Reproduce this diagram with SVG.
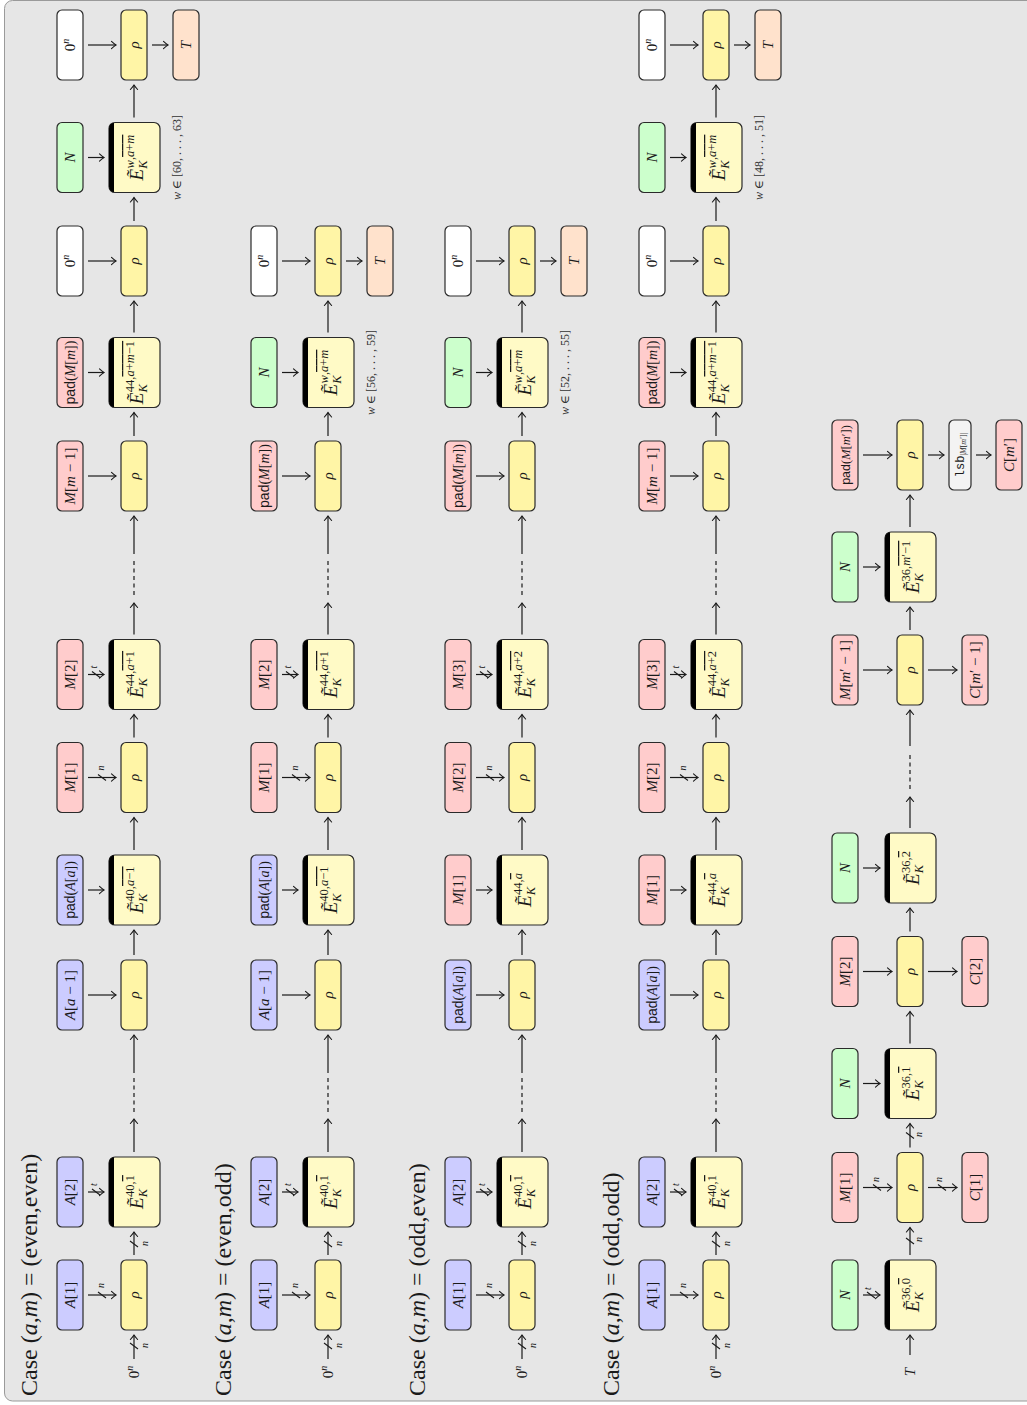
<svg xmlns="http://www.w3.org/2000/svg" width="1027" height="1405" viewBox="0 0 1027 1405">
<defs>
<style>
.nd{stroke:#2a2a2a;stroke-width:1.2}
.rho{fill:#fff5a6}.eb{fill:#fffac6}.bl{fill:#ccccff}.pk{fill:#ffcccc}.gr{fill:#ccffcc}.wh{fill:#ffffff}.pe{fill:#ffe2cc}.lg{fill:#f3f3f3}
.bar{fill:#000}
.t{font-family:"Liberation Serif","DejaVu Serif",serif;font-size:15px;text-anchor:middle;fill:#1a1a1a}
.i{font-style:italic}
.sf{font-family:"Liberation Sans","DejaVu Sans",sans-serif}
.tt{font-family:"Liberation Mono","DejaVu Sans Mono",monospace}
.sc{font-size:12.5px}
.ee{font-size:19px;font-style:italic}
.ov{text-decoration:overline}
.pd{font-size:14px}
.ar{fill:none;stroke:#1a1a1a;stroke-width:1.2;marker-end:url(#ah)}
.ds{fill:none;stroke:#1a1a1a;stroke-width:1.2;stroke-dasharray:4 3.5}
.tk{stroke:#1a1a1a;stroke-width:1.1}
.lb{font-family:"Liberation Serif","DejaVu Serif",serif;font-size:10px;font-style:italic;fill:#1a1a1a}
.case{font-family:"Liberation Serif","DejaVu Serif",serif;font-size:24px;fill:#1a1a1a}
.ann{font-family:"Liberation Serif","DejaVu Serif",serif;font-size:12px;text-anchor:middle;fill:#333}
</style>
<marker id="ah" viewBox="-6 -5 7 10" markerWidth="7" markerHeight="10" refX="0" refY="0" orient="auto" markerUnits="userSpaceOnUse" overflow="visible">
<path d="M-4.5,-3.6 Q-1.6,-0.9 0,0 Q-1.6,0.9 -4.5,3.6" fill="none" stroke="#1a1a1a" stroke-width="1.1" stroke-linecap="round"/>
</marker>
<clipPath id="ec"><rect width="70" height="51" rx="6"/></clipPath>
</defs>
<rect x="4.5" y="0.5" width="1040" height="1400.5" rx="8" fill="#e6e6e6" stroke="#9a9a9a" stroke-width="1"/>
<g transform="translate(0,1405) rotate(-90)">

<g id="labels">
<text class="case" x="9" y="37">Case (<tspan class="i">a</tspan>,<tspan class="i">m</tspan>) = (even,even)</text>
<text class="case" x="9" y="231">Case (<tspan class="i">a</tspan>,<tspan class="i">m</tspan>) = (even,odd)</text>
<text class="case" x="9" y="425">Case (<tspan class="i">a</tspan>,<tspan class="i">m</tspan>) = (odd,even)</text>
<text class="case" x="9" y="619">Case (<tspan class="i">a</tspan>,<tspan class="i">m</tspan>) = (odd,odd)</text>
<text class="ann" x="1247.5" y="181"><tspan class="i">w</tspan> ∈ [60, . . . , 63]</text>
<text class="ann" x="1032.5" y="375"><tspan class="i">w</tspan> ∈ [56, . . . , 59]</text>
<text class="ann" x="1032.5" y="569"><tspan class="i">w</tspan> ∈ [52, . . . , 55]</text>
<text class="ann" x="1247.5" y="763"><tspan class="i">w</tspan> ∈ [48, . . . , 51]</text>
<text class="t" x="33" y="139">0<tspan class="i" style="font-size:10px" dy="-6">n</tspan></text>
<text class="t" x="33" y="333">0<tspan class="i" style="font-size:10px" dy="-6">n</tspan></text>
<text class="t" x="33" y="527">0<tspan class="i" style="font-size:10px" dy="-6">n</tspan></text>
<text class="t" x="33" y="721">0<tspan class="i" style="font-size:10px" dy="-6">n</tspan></text>
<text class="t i" x="33" y="915">T</text>
</g>

<!-- ROW 1 -->
<g id="r1-A1" transform="translate(75,57)"><rect class="nd bl" width="70" height="26" rx="5"/><text class="t" x="35" y="18"><tspan class="i">A</tspan>[1]</text></g>
<g id="r1-rho1" transform="translate(75,121)"><rect class="nd rho" width="70" height="26" rx="5"/><text class="t i" x="35" y="18">ρ</text></g>
<g id="r1-A2" transform="translate(178,57)"><rect class="nd bl" width="70" height="26" rx="5"/><text class="t" x="35" y="18"><tspan class="i">A</tspan>[2]</text></g>
<g id="r1-E1" transform="translate(178,109)"><rect class="nd eb" width="70" height="51" rx="6"/><rect class="bar" width="70" height="5" clip-path="url(#ec)"/><text class="t" x="35" y="34"><tspan class="ee">Ẽ</tspan><tspan class="i sc" dy="4">K</tspan><tspan class="sc" dx="-8" dy="-13">40,</tspan><tspan class="sc ov">1</tspan></text></g>
<g id="r1-Aa1" transform="translate(375,57)"><rect class="nd bl" width="70" height="26" rx="5"/><text class="t" x="35" y="18"><tspan class="i">A</tspan>[<tspan class="i">a</tspan> − 1]</text></g>
<g id="r1-rho2" transform="translate(375,121)"><rect class="nd rho" width="70" height="26" rx="5"/><text class="t i" x="35" y="18">ρ</text></g>
<g id="r1-padA" transform="translate(480,57)"><rect class="nd bl" width="70" height="26" rx="5"/><text class="t pd" x="35" y="18"><tspan class="sf">pad</tspan>(<tspan class="i">A</tspan>[<tspan class="i">a</tspan>])</text></g>
<g id="r1-E2" transform="translate(480,109)"><rect class="nd eb" width="70" height="51" rx="6"/><rect class="bar" width="70" height="5" clip-path="url(#ec)"/><text class="t" x="35" y="34"><tspan class="ee">Ẽ</tspan><tspan class="i sc" dy="4">K</tspan><tspan class="sc" dx="-8" dy="-13">40,</tspan><tspan class="sc ov"><tspan class="i">a</tspan>−1</tspan></text></g>
<g id="r1-M1" transform="translate(592.5,57)"><rect class="nd pk" width="70" height="26" rx="5"/><text class="t" x="35" y="18"><tspan class="i">M</tspan>[1]</text></g>
<g id="r1-rho3" transform="translate(592.5,121)"><rect class="nd rho" width="70" height="26" rx="5"/><text class="t i" x="35" y="18">ρ</text></g>
<g id="r1-M2" transform="translate(695.5,57)"><rect class="nd pk" width="70" height="26" rx="5"/><text class="t" x="35" y="18"><tspan class="i">M</tspan>[2]</text></g>
<g id="r1-E3" transform="translate(695.5,109)"><rect class="nd eb" width="70" height="51" rx="6"/><rect class="bar" width="70" height="5" clip-path="url(#ec)"/><text class="t" x="35" y="34"><tspan class="ee">Ẽ</tspan><tspan class="i sc" dy="4">K</tspan><tspan class="sc" dx="-8" dy="-13">44,</tspan><tspan class="sc ov"><tspan class="i">a</tspan>+1</tspan></text></g>
<g id="r1-Mm1" transform="translate(894,57)"><rect class="nd pk" width="70" height="26" rx="5"/><text class="t" x="35" y="18"><tspan class="i">M</tspan>[<tspan class="i">m</tspan> − 1]</text></g>
<g id="r1-rho4" transform="translate(894,121)"><rect class="nd rho" width="70" height="26" rx="5"/><text class="t i" x="35" y="18">ρ</text></g>
<g id="r1-padM" transform="translate(997.5,57)"><rect class="nd pk" width="70" height="26" rx="5"/><text class="t pd" x="35" y="18"><tspan class="sf">pad</tspan>(<tspan class="i">M</tspan>[<tspan class="i">m</tspan>])</text></g>
<g id="r1-E4" transform="translate(997.5,109)"><rect class="nd eb" width="70" height="51" rx="6"/><rect class="bar" width="70" height="5" clip-path="url(#ec)"/><text class="t" x="35" y="34"><tspan class="ee">Ẽ</tspan><tspan class="i sc" dy="4">K</tspan><tspan class="sc" dx="-8" dy="-13">44,</tspan><tspan class="sc ov"><tspan class="i">a</tspan>+<tspan class="i">m</tspan>−1</tspan></text></g>
<g id="r1-Z1" transform="translate(1109,57)"><rect class="nd wh" width="70" height="26" rx="5"/><text class="t" x="35" y="18">0<tspan class="i" style="font-size:10px" dy="-6">n</tspan></text></g>
<g id="r1-rho5" transform="translate(1109,121)"><rect class="nd rho" width="70" height="26" rx="5"/><text class="t i" x="35" y="18">ρ</text></g>
<g id="r1-N" transform="translate(1212.5,57)"><rect class="nd gr" width="70" height="26" rx="5"/><text class="t i" x="35" y="18">N</text></g>
<g id="r1-E5" transform="translate(1212.5,109)"><rect class="nd eb" width="70" height="51" rx="6"/><rect class="bar" width="70" height="5" clip-path="url(#ec)"/><text class="t" x="35" y="34"><tspan class="ee">Ẽ</tspan><tspan class="i sc" dy="4">K</tspan><tspan class="sc" dx="-8" dy="-13"><tspan class="i">w</tspan>,</tspan><tspan class="sc ov"><tspan class="i">a</tspan>+<tspan class="i">m</tspan></tspan></text></g>
<g id="r1-Z2" transform="translate(1325,57)"><rect class="nd wh" width="70" height="26" rx="5"/><text class="t" x="35" y="18">0<tspan class="i" style="font-size:10px" dy="-6">n</tspan></text></g>
<g id="r1-rho6" transform="translate(1325,121)"><rect class="nd rho" width="70" height="26" rx="5"/><text class="t i" x="35" y="18">ρ</text></g>
<g id="r1-T" transform="translate(1325,173)"><rect class="nd pe" width="70" height="26" rx="5"/><text class="t i" x="35" y="18">T</text></g>

<!-- ROW 2 -->
<g id="r2-A1" transform="translate(75,251)"><rect class="nd bl" width="70" height="26" rx="5"/><text class="t" x="35" y="18"><tspan class="i">A</tspan>[1]</text></g>
<g id="r2-rho1" transform="translate(75,315)"><rect class="nd rho" width="70" height="26" rx="5"/><text class="t i" x="35" y="18">ρ</text></g>
<g id="r2-A2" transform="translate(178,251)"><rect class="nd bl" width="70" height="26" rx="5"/><text class="t" x="35" y="18"><tspan class="i">A</tspan>[2]</text></g>
<g id="r2-E1" transform="translate(178,303)"><rect class="nd eb" width="70" height="51" rx="6"/><rect class="bar" width="70" height="5" clip-path="url(#ec)"/><text class="t" x="35" y="34"><tspan class="ee">Ẽ</tspan><tspan class="i sc" dy="4">K</tspan><tspan class="sc" dx="-8" dy="-13">40,</tspan><tspan class="sc ov">1</tspan></text></g>
<g id="r2-Aa1" transform="translate(375,251)"><rect class="nd bl" width="70" height="26" rx="5"/><text class="t" x="35" y="18"><tspan class="i">A</tspan>[<tspan class="i">a</tspan> − 1]</text></g>
<g id="r2-rho2" transform="translate(375,315)"><rect class="nd rho" width="70" height="26" rx="5"/><text class="t i" x="35" y="18">ρ</text></g>
<g id="r2-padA" transform="translate(480,251)"><rect class="nd bl" width="70" height="26" rx="5"/><text class="t pd" x="35" y="18"><tspan class="sf">pad</tspan>(<tspan class="i">A</tspan>[<tspan class="i">a</tspan>])</text></g>
<g id="r2-E2" transform="translate(480,303)"><rect class="nd eb" width="70" height="51" rx="6"/><rect class="bar" width="70" height="5" clip-path="url(#ec)"/><text class="t" x="35" y="34"><tspan class="ee">Ẽ</tspan><tspan class="i sc" dy="4">K</tspan><tspan class="sc" dx="-8" dy="-13">40,</tspan><tspan class="sc ov"><tspan class="i">a</tspan>−1</tspan></text></g>
<g id="r2-M1" transform="translate(592.5,251)"><rect class="nd pk" width="70" height="26" rx="5"/><text class="t" x="35" y="18"><tspan class="i">M</tspan>[1]</text></g>
<g id="r2-rho3" transform="translate(592.5,315)"><rect class="nd rho" width="70" height="26" rx="5"/><text class="t i" x="35" y="18">ρ</text></g>
<g id="r2-M2" transform="translate(695.5,251)"><rect class="nd pk" width="70" height="26" rx="5"/><text class="t" x="35" y="18"><tspan class="i">M</tspan>[2]</text></g>
<g id="r2-E3" transform="translate(695.5,303)"><rect class="nd eb" width="70" height="51" rx="6"/><rect class="bar" width="70" height="5" clip-path="url(#ec)"/><text class="t" x="35" y="34"><tspan class="ee">Ẽ</tspan><tspan class="i sc" dy="4">K</tspan><tspan class="sc" dx="-8" dy="-13">44,</tspan><tspan class="sc ov"><tspan class="i">a</tspan>+1</tspan></text></g>
<g id="r2-padM" transform="translate(894,251)"><rect class="nd pk" width="70" height="26" rx="5"/><text class="t pd" x="35" y="18"><tspan class="sf">pad</tspan>(<tspan class="i">M</tspan>[<tspan class="i">m</tspan>])</text></g>
<g id="r2-rho4" transform="translate(894,315)"><rect class="nd rho" width="70" height="26" rx="5"/><text class="t i" x="35" y="18">ρ</text></g>
<g id="r2-N" transform="translate(997.5,251)"><rect class="nd gr" width="70" height="26" rx="5"/><text class="t i" x="35" y="18">N</text></g>
<g id="r2-E4" transform="translate(997.5,303)"><rect class="nd eb" width="70" height="51" rx="6"/><rect class="bar" width="70" height="5" clip-path="url(#ec)"/><text class="t" x="35" y="34"><tspan class="ee">Ẽ</tspan><tspan class="i sc" dy="4">K</tspan><tspan class="sc" dx="-8" dy="-13"><tspan class="i">w</tspan>,</tspan><tspan class="sc ov"><tspan class="i">a</tspan>+<tspan class="i">m</tspan></tspan></text></g>
<g id="r2-Z" transform="translate(1109,251)"><rect class="nd wh" width="70" height="26" rx="5"/><text class="t" x="35" y="18">0<tspan class="i" style="font-size:10px" dy="-6">n</tspan></text></g>
<g id="r2-rho5" transform="translate(1109,315)"><rect class="nd rho" width="70" height="26" rx="5"/><text class="t i" x="35" y="18">ρ</text></g>
<g id="r2-T" transform="translate(1109,367)"><rect class="nd pe" width="70" height="26" rx="5"/><text class="t i" x="35" y="18">T</text></g>

<!-- ROW 3 -->
<g id="r3-A1" transform="translate(75,445)"><rect class="nd bl" width="70" height="26" rx="5"/><text class="t" x="35" y="18"><tspan class="i">A</tspan>[1]</text></g>
<g id="r3-rho1" transform="translate(75,509)"><rect class="nd rho" width="70" height="26" rx="5"/><text class="t i" x="35" y="18">ρ</text></g>
<g id="r3-A2" transform="translate(178,445)"><rect class="nd bl" width="70" height="26" rx="5"/><text class="t" x="35" y="18"><tspan class="i">A</tspan>[2]</text></g>
<g id="r3-E1" transform="translate(178,497)"><rect class="nd eb" width="70" height="51" rx="6"/><rect class="bar" width="70" height="5" clip-path="url(#ec)"/><text class="t" x="35" y="34"><tspan class="ee">Ẽ</tspan><tspan class="i sc" dy="4">K</tspan><tspan class="sc" dx="-8" dy="-13">40,</tspan><tspan class="sc ov">1</tspan></text></g>
<g id="r3-padA" transform="translate(375,445)"><rect class="nd bl" width="70" height="26" rx="5"/><text class="t pd" x="35" y="18"><tspan class="sf">pad</tspan>(<tspan class="i">A</tspan>[<tspan class="i">a</tspan>])</text></g>
<g id="r3-rho2" transform="translate(375,509)"><rect class="nd rho" width="70" height="26" rx="5"/><text class="t i" x="35" y="18">ρ</text></g>
<g id="r3-M1" transform="translate(480,445)"><rect class="nd pk" width="70" height="26" rx="5"/><text class="t" x="35" y="18"><tspan class="i">M</tspan>[1]</text></g>
<g id="r3-E2" transform="translate(480,497)"><rect class="nd eb" width="70" height="51" rx="6"/><rect class="bar" width="70" height="5" clip-path="url(#ec)"/><text class="t" x="35" y="34"><tspan class="ee">Ẽ</tspan><tspan class="i sc" dy="4">K</tspan><tspan class="sc" dx="-8" dy="-13">44,</tspan><tspan class="sc ov i">a</tspan></text></g>
<g id="r3-M2" transform="translate(592.5,445)"><rect class="nd pk" width="70" height="26" rx="5"/><text class="t" x="35" y="18"><tspan class="i">M</tspan>[2]</text></g>
<g id="r3-rho3" transform="translate(592.5,509)"><rect class="nd rho" width="70" height="26" rx="5"/><text class="t i" x="35" y="18">ρ</text></g>
<g id="r3-M3" transform="translate(695.5,445)"><rect class="nd pk" width="70" height="26" rx="5"/><text class="t" x="35" y="18"><tspan class="i">M</tspan>[3]</text></g>
<g id="r3-E3" transform="translate(695.5,497)"><rect class="nd eb" width="70" height="51" rx="6"/><rect class="bar" width="70" height="5" clip-path="url(#ec)"/><text class="t" x="35" y="34"><tspan class="ee">Ẽ</tspan><tspan class="i sc" dy="4">K</tspan><tspan class="sc" dx="-8" dy="-13">44,</tspan><tspan class="sc ov"><tspan class="i">a</tspan>+2</tspan></text></g>
<g id="r3-padM" transform="translate(894,445)"><rect class="nd pk" width="70" height="26" rx="5"/><text class="t pd" x="35" y="18"><tspan class="sf">pad</tspan>(<tspan class="i">M</tspan>[<tspan class="i">m</tspan>])</text></g>
<g id="r3-rho4" transform="translate(894,509)"><rect class="nd rho" width="70" height="26" rx="5"/><text class="t i" x="35" y="18">ρ</text></g>
<g id="r3-N" transform="translate(997.5,445)"><rect class="nd gr" width="70" height="26" rx="5"/><text class="t i" x="35" y="18">N</text></g>
<g id="r3-E4" transform="translate(997.5,497)"><rect class="nd eb" width="70" height="51" rx="6"/><rect class="bar" width="70" height="5" clip-path="url(#ec)"/><text class="t" x="35" y="34"><tspan class="ee">Ẽ</tspan><tspan class="i sc" dy="4">K</tspan><tspan class="sc" dx="-8" dy="-13"><tspan class="i">w</tspan>,</tspan><tspan class="sc ov"><tspan class="i">a</tspan>+<tspan class="i">m</tspan></tspan></text></g>
<g id="r3-Z" transform="translate(1109,445)"><rect class="nd wh" width="70" height="26" rx="5"/><text class="t" x="35" y="18">0<tspan class="i" style="font-size:10px" dy="-6">n</tspan></text></g>
<g id="r3-rho5" transform="translate(1109,509)"><rect class="nd rho" width="70" height="26" rx="5"/><text class="t i" x="35" y="18">ρ</text></g>
<g id="r3-T" transform="translate(1109,561)"><rect class="nd pe" width="70" height="26" rx="5"/><text class="t i" x="35" y="18">T</text></g>

<!-- ROW 4 -->
<g id="r4-A1" transform="translate(75,639)"><rect class="nd bl" width="70" height="26" rx="5"/><text class="t" x="35" y="18"><tspan class="i">A</tspan>[1]</text></g>
<g id="r4-rho1" transform="translate(75,703)"><rect class="nd rho" width="70" height="26" rx="5"/><text class="t i" x="35" y="18">ρ</text></g>
<g id="r4-A2" transform="translate(178,639)"><rect class="nd bl" width="70" height="26" rx="5"/><text class="t" x="35" y="18"><tspan class="i">A</tspan>[2]</text></g>
<g id="r4-E1" transform="translate(178,691)"><rect class="nd eb" width="70" height="51" rx="6"/><rect class="bar" width="70" height="5" clip-path="url(#ec)"/><text class="t" x="35" y="34"><tspan class="ee">Ẽ</tspan><tspan class="i sc" dy="4">K</tspan><tspan class="sc" dx="-8" dy="-13">40,</tspan><tspan class="sc ov">1</tspan></text></g>
<g id="r4-padA" transform="translate(375,639)"><rect class="nd bl" width="70" height="26" rx="5"/><text class="t pd" x="35" y="18"><tspan class="sf">pad</tspan>(<tspan class="i">A</tspan>[<tspan class="i">a</tspan>])</text></g>
<g id="r4-rho2" transform="translate(375,703)"><rect class="nd rho" width="70" height="26" rx="5"/><text class="t i" x="35" y="18">ρ</text></g>
<g id="r4-M1" transform="translate(480,639)"><rect class="nd pk" width="70" height="26" rx="5"/><text class="t" x="35" y="18"><tspan class="i">M</tspan>[1]</text></g>
<g id="r4-E2" transform="translate(480,691)"><rect class="nd eb" width="70" height="51" rx="6"/><rect class="bar" width="70" height="5" clip-path="url(#ec)"/><text class="t" x="35" y="34"><tspan class="ee">Ẽ</tspan><tspan class="i sc" dy="4">K</tspan><tspan class="sc" dx="-8" dy="-13">44,</tspan><tspan class="sc ov i">a</tspan></text></g>
<g id="r4-M2" transform="translate(592.5,639)"><rect class="nd pk" width="70" height="26" rx="5"/><text class="t" x="35" y="18"><tspan class="i">M</tspan>[2]</text></g>
<g id="r4-rho3" transform="translate(592.5,703)"><rect class="nd rho" width="70" height="26" rx="5"/><text class="t i" x="35" y="18">ρ</text></g>
<g id="r4-M3" transform="translate(695.5,639)"><rect class="nd pk" width="70" height="26" rx="5"/><text class="t" x="35" y="18"><tspan class="i">M</tspan>[3]</text></g>
<g id="r4-E3" transform="translate(695.5,691)"><rect class="nd eb" width="70" height="51" rx="6"/><rect class="bar" width="70" height="5" clip-path="url(#ec)"/><text class="t" x="35" y="34"><tspan class="ee">Ẽ</tspan><tspan class="i sc" dy="4">K</tspan><tspan class="sc" dx="-8" dy="-13">44,</tspan><tspan class="sc ov"><tspan class="i">a</tspan>+2</tspan></text></g>
<g id="r4-Mm1" transform="translate(894,639)"><rect class="nd pk" width="70" height="26" rx="5"/><text class="t" x="35" y="18"><tspan class="i">M</tspan>[<tspan class="i">m</tspan> − 1]</text></g>
<g id="r4-rho4" transform="translate(894,703)"><rect class="nd rho" width="70" height="26" rx="5"/><text class="t i" x="35" y="18">ρ</text></g>
<g id="r4-padM" transform="translate(997.5,639)"><rect class="nd pk" width="70" height="26" rx="5"/><text class="t pd" x="35" y="18"><tspan class="sf">pad</tspan>(<tspan class="i">M</tspan>[<tspan class="i">m</tspan>])</text></g>
<g id="r4-E4" transform="translate(997.5,691)"><rect class="nd eb" width="70" height="51" rx="6"/><rect class="bar" width="70" height="5" clip-path="url(#ec)"/><text class="t" x="35" y="34"><tspan class="ee">Ẽ</tspan><tspan class="i sc" dy="4">K</tspan><tspan class="sc" dx="-8" dy="-13">44,</tspan><tspan class="sc ov"><tspan class="i">a</tspan>+<tspan class="i">m</tspan>−1</tspan></text></g>
<g id="r4-Z1" transform="translate(1109,639)"><rect class="nd wh" width="70" height="26" rx="5"/><text class="t" x="35" y="18">0<tspan class="i" style="font-size:10px" dy="-6">n</tspan></text></g>
<g id="r4-rho5" transform="translate(1109,703)"><rect class="nd rho" width="70" height="26" rx="5"/><text class="t i" x="35" y="18">ρ</text></g>
<g id="r4-N" transform="translate(1212.5,639)"><rect class="nd gr" width="70" height="26" rx="5"/><text class="t i" x="35" y="18">N</text></g>
<g id="r4-E5" transform="translate(1212.5,691)"><rect class="nd eb" width="70" height="51" rx="6"/><rect class="bar" width="70" height="5" clip-path="url(#ec)"/><text class="t" x="35" y="34"><tspan class="ee">Ẽ</tspan><tspan class="i sc" dy="4">K</tspan><tspan class="sc" dx="-8" dy="-13"><tspan class="i">w</tspan>,</tspan><tspan class="sc ov"><tspan class="i">a</tspan>+<tspan class="i">m</tspan></tspan></text></g>
<g id="r4-Z2" transform="translate(1325,639)"><rect class="nd wh" width="70" height="26" rx="5"/><text class="t" x="35" y="18">0<tspan class="i" style="font-size:10px" dy="-6">n</tspan></text></g>
<g id="r4-rho6" transform="translate(1325,703)"><rect class="nd rho" width="70" height="26" rx="5"/><text class="t i" x="35" y="18">ρ</text></g>
<g id="r4-T" transform="translate(1325,755)"><rect class="nd pe" width="70" height="26" rx="5"/><text class="t i" x="35" y="18">T</text></g>

<!-- ROW 5 -->
<g id="r5-N0" transform="translate(75,832)"><rect class="nd gr" width="70" height="26" rx="5"/><text class="t i" x="35" y="18">N</text></g>
<g id="r5-E0" transform="translate(75,885)"><rect class="nd eb" width="70" height="51" rx="6"/><rect class="bar" width="70" height="5" clip-path="url(#ec)"/><text class="t" x="35" y="34"><tspan class="ee">Ẽ</tspan><tspan class="i sc" dy="4">K</tspan><tspan class="sc" dx="-8" dy="-13">36,</tspan><tspan class="sc ov">0</tspan></text></g>
<g id="r5-M1" transform="translate(182.5,832)"><rect class="nd pk" width="70" height="26" rx="5"/><text class="t" x="35" y="18"><tspan class="i">M</tspan>[1]</text></g>
<g id="r5-rho1" transform="translate(182.5,897)"><rect class="nd rho" width="70" height="26" rx="5"/><text class="t i" x="35" y="18">ρ</text></g>
<g id="r5-C1" transform="translate(182.5,962)"><rect class="nd pk" width="70" height="26" rx="5"/><text class="t" x="35" y="18"><tspan class="i">C</tspan>[1]</text></g>
<g id="r5-N1" transform="translate(286.5,832)"><rect class="nd gr" width="70" height="26" rx="5"/><text class="t i" x="35" y="18">N</text></g>
<g id="r5-E1" transform="translate(286.5,885)"><rect class="nd eb" width="70" height="51" rx="6"/><rect class="bar" width="70" height="5" clip-path="url(#ec)"/><text class="t" x="35" y="34"><tspan class="ee">Ẽ</tspan><tspan class="i sc" dy="4">K</tspan><tspan class="sc" dx="-8" dy="-13">36,</tspan><tspan class="sc ov">1</tspan></text></g>
<g id="r5-M2" transform="translate(398.5,832)"><rect class="nd pk" width="70" height="26" rx="5"/><text class="t" x="35" y="18"><tspan class="i">M</tspan>[2]</text></g>
<g id="r5-rho2" transform="translate(398.5,897)"><rect class="nd rho" width="70" height="26" rx="5"/><text class="t i" x="35" y="18">ρ</text></g>
<g id="r5-C2" transform="translate(398.5,962)"><rect class="nd pk" width="70" height="26" rx="5"/><text class="t" x="35" y="18"><tspan class="i">C</tspan>[2]</text></g>
<g id="r5-N2" transform="translate(502,832)"><rect class="nd gr" width="70" height="26" rx="5"/><text class="t i" x="35" y="18">N</text></g>
<g id="r5-E2" transform="translate(502,885)"><rect class="nd eb" width="70" height="51" rx="6"/><rect class="bar" width="70" height="5" clip-path="url(#ec)"/><text class="t" x="35" y="34"><tspan class="ee">Ẽ</tspan><tspan class="i sc" dy="4">K</tspan><tspan class="sc" dx="-8" dy="-13">36,</tspan><tspan class="sc ov">2</tspan></text></g>
<g id="r5-Mm" transform="translate(700,832)"><rect class="nd pk" width="70" height="26" rx="5"/><text class="t" x="35" y="18"><tspan class="i">M</tspan>[<tspan class="i">m</tspan>′ − 1]</text></g>
<g id="r5-rhom" transform="translate(700,897)"><rect class="nd rho" width="70" height="26" rx="5"/><text class="t i" x="35" y="18">ρ</text></g>
<g id="r5-Cm" transform="translate(700,962)"><rect class="nd pk" width="70" height="26" rx="5"/><text class="t" x="35" y="18"><tspan class="i">C</tspan>[<tspan class="i">m</tspan>′ − 1]</text></g>
<g id="r5-N3" transform="translate(803,832)"><rect class="nd gr" width="70" height="26" rx="5"/><text class="t i" x="35" y="18">N</text></g>
<g id="r5-E3" transform="translate(803,885)"><rect class="nd eb" width="70" height="51" rx="6"/><rect class="bar" width="70" height="5" clip-path="url(#ec)"/><text class="t" x="35" y="34"><tspan class="ee">Ẽ</tspan><tspan class="i sc" dy="4">K</tspan><tspan class="sc" dx="-8" dy="-13">36,</tspan><tspan class="sc ov"><tspan class="i">m</tspan>′−1</tspan></text></g>
<g id="r5-padM" transform="translate(915,832)"><rect class="nd pk" width="70" height="26" rx="5"/><text class="t" style="font-size:12.5px" x="35" y="17.5"><tspan class="sf">pad</tspan>(<tspan class="i">M</tspan>[<tspan class="i">m</tspan>′])</text></g>
<g id="r5-rhof" transform="translate(915,897)"><rect class="nd rho" width="70" height="26" rx="5"/><text class="t i" x="35" y="18">ρ</text></g>
<g id="r5-lsb" transform="translate(915,949)"><rect class="nd lg" width="70" height="22" rx="5"/><text class="t" x="35" y="15"><tspan class="tt" style="font-size:12px">lsb</tspan><tspan style="font-size:8px" dy="2">|<tspan class="i">M</tspan>[<tspan class="i">m</tspan>′]|</tspan></text></g>
<g id="r5-Cf" transform="translate(915,996)"><rect class="nd pk" width="70" height="26" rx="5"/><text class="t" x="35" y="18"><tspan class="i">C</tspan>[<tspan class="i">m</tspan>′]</text></g>

<!-- CONNECTORS -->
<g id="connectors">
<!-- row 1 -->
<path class="ar" d="M46 134H70"/><path class="ar" d="M150 134H173"/><path class="ar" d="M253 134H286"/><path class="ar" d="M332 134H370"/><path class="ar" d="M450 134H475"/><path class="ar" d="M555 134H587.5"/><path class="ar" d="M667.5 134H690.5"/><path class="ar" d="M770.5 134H802"/><path class="ar" d="M851 134H889"/><path class="ar" d="M969 134H992.5"/><path class="ar" d="M1072.5 134H1104"/><path class="ar" d="M1184 134H1207.5"/><path class="ar" d="M1287.5 134H1320"/>
<path class="ds" d="M293 134H327M810 134H845"/>
<path class="ar" d="M110 88V116"/><path class="ar" d="M213 88V104"/><path class="ar" d="M410 88V116"/><path class="ar" d="M515 88V104"/><path class="ar" d="M627.5 88V116"/><path class="ar" d="M730.5 88V104"/><path class="ar" d="M929 88V116"/><path class="ar" d="M1032.5 88V104"/><path class="ar" d="M1144 88V116"/><path class="ar" d="M1247.5 88V104"/><path class="ar" d="M1360 88V116"/><path class="ar" d="M1360 152V168"/>
<!-- row 2 -->
<path class="ar" d="M46 328H70"/><path class="ar" d="M150 328H173"/><path class="ar" d="M253 328H286"/><path class="ar" d="M332 328H370"/><path class="ar" d="M450 328H475"/><path class="ar" d="M555 328H587.5"/><path class="ar" d="M667.5 328H690.5"/><path class="ar" d="M770.5 328H802"/><path class="ar" d="M851 328H889"/><path class="ar" d="M969 328H992.5"/><path class="ar" d="M1072.5 328H1104"/>
<path class="ds" d="M293 328H327M810 328H845"/>
<path class="ar" d="M110 282V310"/><path class="ar" d="M213 282V298"/><path class="ar" d="M410 282V310"/><path class="ar" d="M515 282V298"/><path class="ar" d="M627.5 282V310"/><path class="ar" d="M730.5 282V298"/><path class="ar" d="M929 282V310"/><path class="ar" d="M1032.5 282V298"/><path class="ar" d="M1144 282V310"/><path class="ar" d="M1144 346V362"/>
<!-- row 3 -->
<path class="ar" d="M46 522H70"/><path class="ar" d="M150 522H173"/><path class="ar" d="M253 522H286"/><path class="ar" d="M332 522H370"/><path class="ar" d="M450 522H475"/><path class="ar" d="M555 522H587.5"/><path class="ar" d="M667.5 522H690.5"/><path class="ar" d="M770.5 522H802"/><path class="ar" d="M851 522H889"/><path class="ar" d="M969 522H992.5"/><path class="ar" d="M1072.5 522H1104"/>
<path class="ds" d="M293 522H327M810 522H845"/>
<path class="ar" d="M110 476V504"/><path class="ar" d="M213 476V492"/><path class="ar" d="M410 476V504"/><path class="ar" d="M515 476V492"/><path class="ar" d="M627.5 476V504"/><path class="ar" d="M730.5 476V492"/><path class="ar" d="M929 476V504"/><path class="ar" d="M1032.5 476V492"/><path class="ar" d="M1144 476V504"/><path class="ar" d="M1144 540V556"/>
<!-- row 4 -->
<path class="ar" d="M46 716H70"/><path class="ar" d="M150 716H173"/><path class="ar" d="M253 716H286"/><path class="ar" d="M332 716H370"/><path class="ar" d="M450 716H475"/><path class="ar" d="M555 716H587.5"/><path class="ar" d="M667.5 716H690.5"/><path class="ar" d="M770.5 716H802"/><path class="ar" d="M851 716H889"/><path class="ar" d="M969 716H992.5"/><path class="ar" d="M1072.5 716H1104"/><path class="ar" d="M1184 716H1207.5"/><path class="ar" d="M1287.5 716H1320"/>
<path class="ds" d="M293 716H327M810 716H845"/>
<path class="ar" d="M110 670V698"/><path class="ar" d="M213 670V686"/><path class="ar" d="M410 670V698"/><path class="ar" d="M515 670V686"/><path class="ar" d="M627.5 670V698"/><path class="ar" d="M730.5 670V686"/><path class="ar" d="M929 670V698"/><path class="ar" d="M1032.5 670V686"/><path class="ar" d="M1144 670V698"/><path class="ar" d="M1247.5 670V686"/><path class="ar" d="M1360 670V698"/><path class="ar" d="M1360 734V750"/>
<!-- row 5 -->
<path class="ar" d="M50 910H70"/><path class="ar" d="M150 910H177.5"/><path class="ar" d="M257.5 910H281.5"/><path class="ar" d="M361.5 910H393.5"/><path class="ar" d="M473.5 910H497"/><path class="ar" d="M577 910H608"/><path class="ar" d="M659 910H695"/><path class="ar" d="M775 910H798"/><path class="ar" d="M878 910H910"/>
<path class="ds" d="M616 910H652"/>
<path class="ar" d="M110 863V880"/><path class="ar" d="M217.5 863V892"/><path class="ar" d="M321.5 863V880"/><path class="ar" d="M433.5 863V892"/><path class="ar" d="M537 863V880"/><path class="ar" d="M735 863V892"/><path class="ar" d="M838 863V880"/><path class="ar" d="M950 863V892"/>
<path class="ar" d="M217.5 928V957"/><path class="ar" d="M433.5 928V957"/><path class="ar" d="M735 928V957"/><path class="ar" d="M950 928V944"/><path class="ar" d="M950 976V991"/>
<!-- slash ticks -->
<path class="tk" d="M56,138L62,130M158,138L164,130M107,106L113,98M210,100L216,92M624.5,106L630.5,98M727.5,100L733.5,92"/>
<path class="tk" d="M56,332L62,324M158,332L164,324M107,300L113,292M210,294L216,286M624.5,300L630.5,292M727.5,294L733.5,286"/>
<path class="tk" d="M56,526L62,518M158,526L164,518M107,494L113,486M210,488L216,480M624.5,494L630.5,486M727.5,488L733.5,480"/>
<path class="tk" d="M56,720L62,712M158,720L164,712M107,688L113,680M210,682L216,674M624.5,688L630.5,680M727.5,682L733.5,674"/>
<path class="tk" d="M107,875L113,867M161,914L167,906M266.5,914L272.5,906M214.5,881L220.5,873M214.5,946L220.5,938"/>
<!-- tick labels -->
<text class="lb" x="57" y="148">n</text><text class="lb" x="159" y="148">n</text><text class="lb" x="117" y="104">n</text><text class="lb" x="219" y="97">t</text><text class="lb" x="634.5" y="104">n</text><text class="lb" x="736.5" y="97">t</text>
<text class="lb" x="57" y="342">n</text><text class="lb" x="159" y="342">n</text><text class="lb" x="117" y="298">n</text><text class="lb" x="219" y="291">t</text><text class="lb" x="634.5" y="298">n</text><text class="lb" x="736.5" y="291">t</text>
<text class="lb" x="57" y="536">n</text><text class="lb" x="159" y="536">n</text><text class="lb" x="117" y="492">n</text><text class="lb" x="219" y="485">t</text><text class="lb" x="634.5" y="492">n</text><text class="lb" x="736.5" y="485">t</text>
<text class="lb" x="57" y="730">n</text><text class="lb" x="159" y="730">n</text><text class="lb" x="117" y="686">n</text><text class="lb" x="219" y="679">t</text><text class="lb" x="634.5" y="686">n</text><text class="lb" x="736.5" y="679">t</text>
<text class="lb" x="115" y="871">t</text><text class="lb" x="163" y="922">n</text><text class="lb" x="268" y="922">n</text><text class="lb" x="223" y="879">n</text><text class="lb" x="223" y="942">n</text>
</g>
</g>
</svg>
